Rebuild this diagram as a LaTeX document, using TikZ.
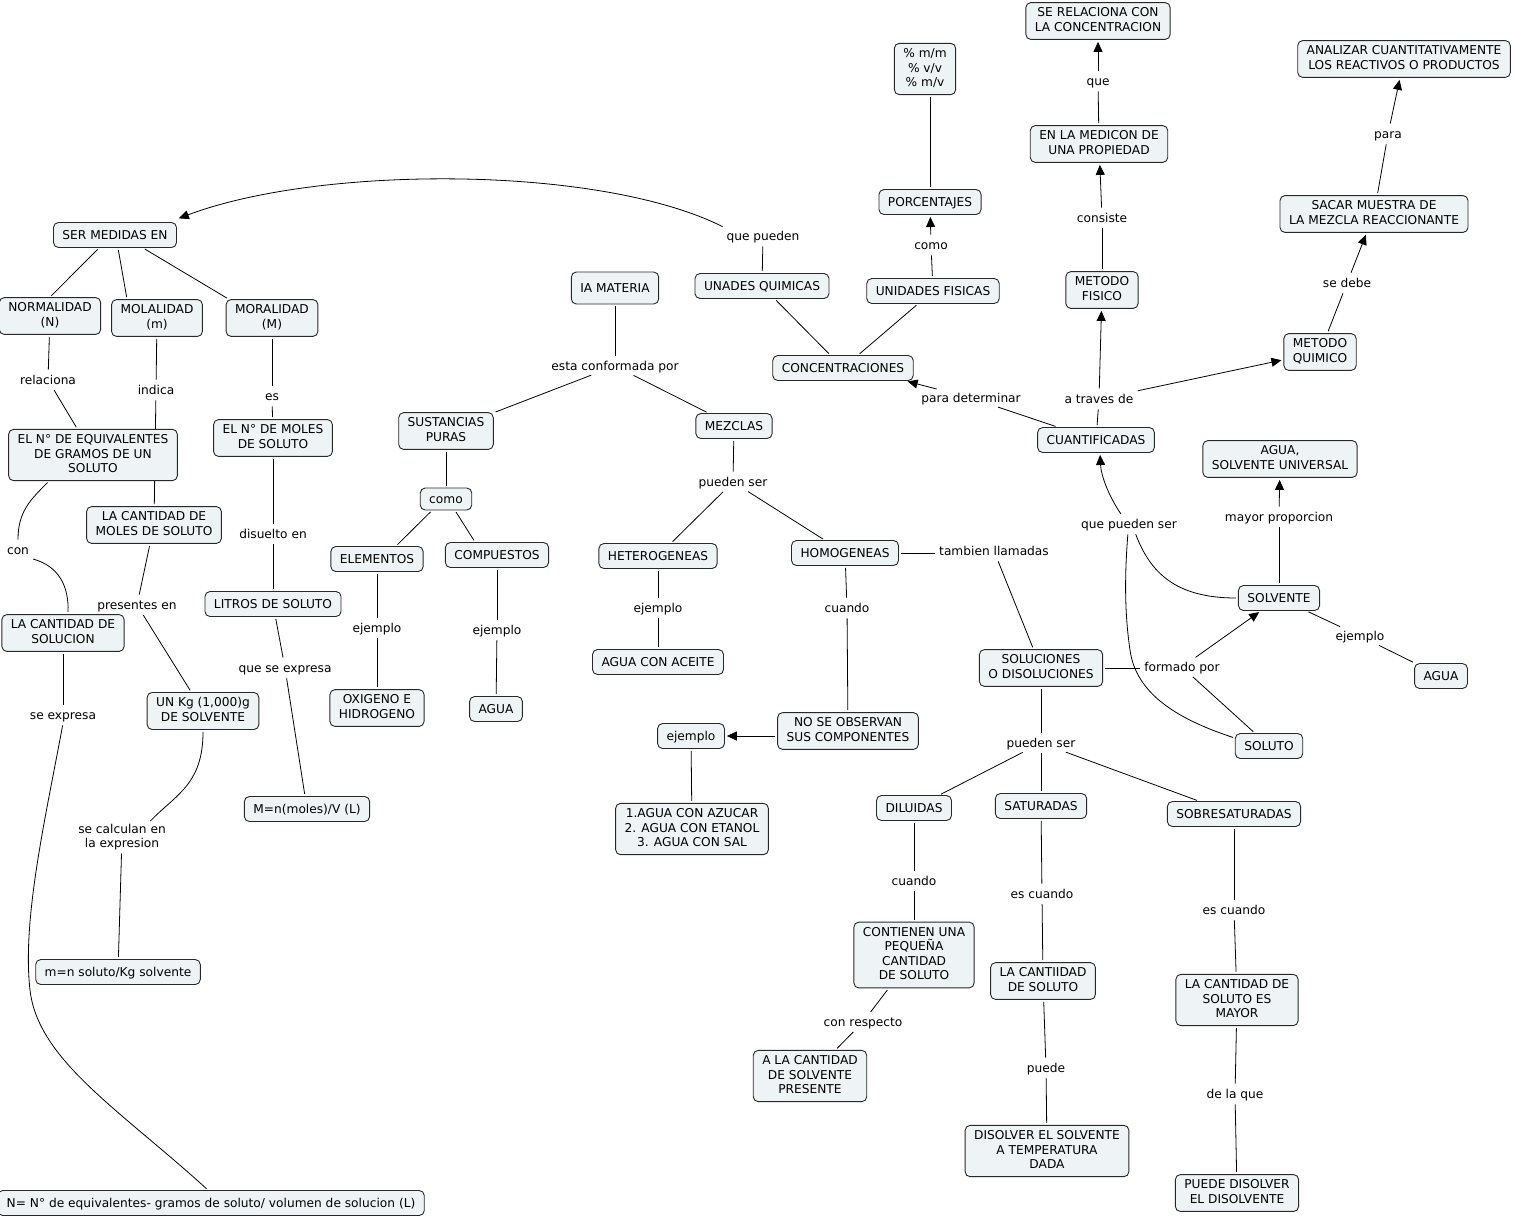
\documentclass[tikz,border=0pt]{standalone}
\usepackage{fontspec}
\setmainfont{DejaVu Sans}
\usetikzlibrary{arrows.meta}
\pgfdeclarelayer{bg}
\pgfsetlayers{bg,main}
\definecolor{cfill}{RGB}{238,244,246}
\definecolor{cline}{RGB}{40,40,40}
\newcommand\cmapfont{\fontsize{12.2}{14.5}\selectfont}
\newcommand\cstrut{\rule[-2.8pt]{0pt}{14.5pt}}
\tikzset{
 concept/.style={draw=cline, line width=0.9pt, fill=cfill, rounded corners=5pt, align=center, font=\cmapfont, inner xsep=9pt, inner ysep=5.25pt, execute at begin node=\cstrut, execute at end node=\cstrut},
 lnk/.style={align=center, font=\cmapfont, inner xsep=2pt, inner ysep=1pt, execute at begin node=\cstrut, execute at end node=\cstrut},
 ln/.style={draw=black, line width=0.8pt, shorten <=2pt, shorten >=2pt},
 arr/.style={ln, -{Triangle[length=10pt,width=9pt]}},
}
\begin{document}
\begin{tikzpicture}[x=1pt,y=-1pt]
\useasboundingbox (0,0) rectangle (1514,1219);
% ---------- left part ----------
\node[concept] (ser) at (115,235) {SER MEDIDAS EN};
\node[concept] (norm) at (50,316) {NORMALIDAD\\(N)};
\node[concept] (molal) at (157,318) {MOLALIDAD\\(m)};
\node[concept] (moral) at (272,318) {MORALIDAD\\(M)};
\node[lnk] (rel) at (48,380) {relaciona};
\node[lnk] (ind) at (156,390) {indica};
\node[lnk] (es) at (272,396) {es};
\node[concept] (equiv) at (93,455) {EL N° DE EQUIVALENTES\\DE GRAMOS DE UN\\SOLUTO};
\node[concept] (nmol) at (273,438) {EL N° DE MOLES\\DE SOLUTO};
\node[lnk] (con) at (18,550) {con};
\node[concept] (cantmol) at (154,525) {LA CANTIDAD DE\\MOLES DE SOLUTO};
\node[lnk] (disu) at (273,534) {disuelto en};
\node[lnk] (pres) at (137,605) {presentes en};
\node[concept] (litros) at (273,604) {LITROS DE SOLUTO};
\node[concept] (cantsol) at (63,633) {LA CANTIDAD DE\\SOLUCION};
\node[lnk] (qse) at (285,668) {que se expresa};
\node[concept] (unkg) at (203,711) {UN Kg (1,000)g\\DE SOLVENTE};
\node[lnk] (seexp) at (63,715) {se expresa};
\node[concept] (mform) at (307,809) {M=n(moles)/V (L)};
\node[lnk] (secalc) at (122,837) {se calculan en\\la expresion};
\node[concept] (mkg) at (118,972) {m=n soluto/Kg solvente};
\node[concept] (nform) at (211,1203) {N= N° de equivalentes- gramos de soluto/ volumen de solucion (L)};
% ---------- centre ----------
\node[concept, minimum height=32pt] (materia) at (615,288) {IA MATERIA};
\node[lnk] (esta) at (615,366) {esta conformada por};
\node[concept] (sust) at (446,431) {SUSTANCIAS\\PURAS};
\node[concept] (mezc) at (734,426) {MEZCLAS};
\node[concept, inner ysep=3.75pt] (como) at (446,499) {como};
\node[concept] (elem) at (377,559) {ELEMENTOS};
\node[concept] (comp) at (497,555) {COMPUESTOS};
\node[lnk] (ej1) at (377,628) {ejemplo};
\node[lnk] (ej2) at (497,630) {ejemplo};
\node[concept] (oxi) at (377,708) {OXIGENO E\\HIDROGENO};
\node[concept] (agua1) at (496,709) {AGUA};
\node[lnk] (pue1) at (733,482) {pueden ser};
\node[concept] (het) at (658,556) {HETEROGENEAS};
\node[concept] (hom) at (845,553) {HOMOGENEAS};
\node[lnk] (ej3) at (658,608) {ejemplo};
\node[concept] (aceite) at (658,662) {AGUA CON ACEITE};
\node[lnk] (cuando1) at (847,608) {cuando};
\node[concept] (noseo) at (848,731) {NO SE OBSERVAN\\SUS COMPONENTES};
\node[concept] (ejbox) at (691,736) {ejemplo};
\node[concept] (mezclas3) at (692,829) {1.AGUA CON AZUCAR\\2. AGUA CON ETANOL\\3. AGUA CON SAL};
\node[lnk] (tamb) at (994,551) {tambien llamadas};
\node[concept] (unq) at (762,286) {UNADES QUIMICAS};
\node[lnk] (qp) at (763,236) {que pueden};
\node[concept] (unf) at (933,291) {UNIDADES FISICAS};
\node[concept] (conc) at (843,368) {CONCENTRACIONES};
\node[lnk] (como2) at (931,245) {como};
\node[concept] (porc) at (930,202) {PORCENTAJES};
\node[concept] (pct) at (925,69) {\% m/m\\\% v/v\\\% m/v};
\node[lnk] (paradet) at (971,398) {para determinar};
% ---------- right ----------
\node[concept] (cuant) at (1096,440) {CUANTIFICADAS};
\node[lnk] (atr) at (1099,399) {a traves de};
\node[concept] (metf) at (1102,290) {METODO\\FISICO};
\node[lnk] (cons) at (1102,218) {consiste};
\node[concept] (medic) at (1099,144) {EN LA MEDICON DE\\UNA PROPIEDAD};
\node[lnk] (que) at (1098,81) {que};
\node[concept] (serel) at (1098,21) {SE RELACIONA CON\\LA CONCENTRACION};
\node[concept] (metq) at (1320,352) {METODO\\QUIMICO};
\node[lnk] (sedebe) at (1347,283) {se debe};
\node[concept] (sacar) at (1374,214) {SACAR MUESTRA DE\\LA MEZCLA REACCIONANTE};
\node[lnk] (para) at (1388,134) {para};
\node[concept] (anal) at (1404,59) {ANALIZAR CUANTITATIVAMENTE\\LOS REACTIVOS O PRODUCTOS};
\node[concept] (aguasu) at (1280,459) {AGUA,\\SOLVENTE UNIVERSAL};
\node[lnk] (mayp) at (1279,517) {mayor proporcion};
\node[lnk] (qps) at (1129,524) {que pueden ser};
\node[concept] (solv) at (1279,598) {SOLVENTE};
\node[lnk] (ej4) at (1360,636) {ejemplo};
\node[concept] (agua2) at (1441,676) {AGUA};
\node[lnk] (form) at (1182,667) {formado por};
\node[concept] (soluc) at (1041,668) {SOLUCIONES\\O DISOLUCIONES};
\node[concept] (soluto) at (1269,746) {SOLUTO};
\node[lnk] (pue2) at (1041,743) {pueden ser};
\node[concept] (dil) at (914,808) {DILUIDAS};
\node[concept] (sat) at (1041,806) {SATURADAS};
\node[concept] (sobre) at (1234,814) {SOBRESATURADAS};
\node[lnk] (cuando2) at (914,881) {cuando};
\node[lnk] (esc1) at (1042,894) {es cuando};
\node[lnk] (esc2) at (1234,910) {es cuando};
\node[concept] (cont) at (914,955) {CONTIENEN UNA\\PEQUEÑA\\CANTIDAD\\DE SOLUTO};
\node[concept] (lacan) at (1043,981) {LA CANTIIDAD\\DE SOLUTO};
\node[concept] (mayor) at (1237,1000) {LA CANTIDAD DE\\SOLUTO ES\\MAYOR};
\node[lnk] (conr) at (863,1022) {con respecto};
\node[concept] (alac) at (810,1076) {A LA CANTIDAD\\DE SOLVENTE\\PRESENTE};
\node[lnk] (puede) at (1046,1068) {puede};
\node[lnk] (delaq) at (1235,1094) {de la que};
\node[concept] (disol) at (1047,1151) {DISOLVER EL SOLVENTE\\A TEMPERATURA\\DADA};
\node[concept] (pdis) at (1237,1193) {PUEDE DISOLVER\\EL DISOLVENTE};
% ---------- connectors ----------
\begin{pgfonlayer}{bg}
\draw[ln] ([xshift=-16pt]ser.south) -- (norm.north);
\draw[ln] ([xshift=3pt]ser.south) -- ([xshift=-30pt]molal.north);
\draw[ln] ([xshift=28pt]ser.south) -- ([xshift=3pt]moral.north west);
\draw[ln] (norm) -- (rel);
\draw[ln] (rel) -- (equiv);
\draw[ln] (molal) -- (ind);
\draw[ln] (ind) -- (cantmol);
\draw[ln] (moral) -- (es);
\draw[ln] (es) -- (nmol);
\draw[ln] (nmol) -- (disu);
\draw[ln] (disu) -- (litros);
\draw[ln] (litros) -- (qse);
\draw[ln] (qse) -- (mform);
\draw[ln] ([xshift=-44pt]equiv.south) .. controls (30,500) and (18,512) .. (con.north);
\draw[ln] (con.south east) .. controls (58,566) and (69,585) .. ([xshift=5pt]cantsol.north);
\draw[ln] (cantmol) -- (pres);
\draw[ln] (pres) -- (unkg);
\draw[ln] (unkg.south) .. controls (203,785) and (175,795) .. ([xshift=27pt]secalc.north);
\draw[ln] (secalc) -- (mkg);
\draw[ln] (cantsol) -- (seexp);
\draw[ln] (seexp.south) .. controls (45,820) and (22,920) .. (30,990) .. controls (38,1060) and (120,1110) .. ([xshift=-3pt]nform.north);
\draw[ln] (materia) -- (esta);
\draw[ln] (esta) -- (sust);
\draw[ln] (esta) -- (mezc);
\draw[ln] (sust) -- (como);
\draw[ln] ([xshift=-14pt]como.south) -- ([xshift=19pt]elem.north);
\draw[ln] ([xshift=9pt]como.south) -- ([xshift=-22pt]comp.north);
\draw[ln] (elem) -- (ej1);
\draw[ln] (ej1) -- (oxi);
\draw[ln] (comp) -- (ej2);
\draw[ln] (ej2) -- (agua1);
\draw[ln] (mezc) -- (pue1);
\draw[ln] (pue1) -- (het);
\draw[ln] (pue1) -- (hom);
\draw[ln] (het) -- (ej3);
\draw[ln] (ej3) -- (aceite);
\draw[ln] (hom) -- (cuando1);
\draw[ln] (cuando1) -- (noseo);
\draw[arr] (noseo.west |- ejbox.east) -- (ejbox.east);
\draw[ln] (ejbox) -- (mezclas3);
\draw[ln] (hom.east) -- (tamb.west |- hom.east);
\draw[ln] (tamb) -- (soluc);
\draw[ln] (unq) -- (qp);
\draw[arr] (qp.north west) .. controls (600,165) and (320,165) .. ([yshift=3pt]ser.north east);
\draw[ln] (unq) -- (conc);
\draw[ln] (unf) -- (conc);
\draw[ln] (unf) -- (como2);
\draw[arr] (como2) -- (porc);
\draw[ln] (porc.north) -- (porc.north |- pct.south);
\draw[ln] (cuant) -- (paradet);
\draw[arr] (paradet) -- ([xshift=-8pt]conc.south east);
\draw[ln] (cuant) -- (atr);
\draw[arr] (atr) -- (metf);
\draw[arr] (atr) -- (metq);
\draw[ln] (metf) -- (cons);
\draw[arr] (cons) -- (medic);
\draw[ln] (medic) -- (que);
\draw[arr] (que) -- (serel);
\draw[ln] (metq) -- (sedebe);
\draw[arr] (sedebe) -- (sacar);
\draw[ln] (sacar) -- (para);
\draw[arr] (para) -- (anal);
\draw[ln] (soluc.east) -- (form.west |- soluc.east);
\draw[arr] (form) -- (solv);
\draw[ln] (form) -- (soluto);
\draw[ln] (solv.west) .. controls (1175,598) and (1150,572) .. ([xshift=6pt]qps.south);
\draw[arr] ([xshift=-7pt]qps.north) .. controls (1108,495) and (1101,475) .. ([xshift=4pt]cuant.south);
\draw[ln] ([yshift=8pt]soluto.west) .. controls (1180,720) and (1136,695) .. (1130,650) .. controls (1124,610) and (1125,570) .. ([xshift=-1pt]qps.south);
\draw[ln] (solv) -- (mayp);
\draw[arr] (mayp) -- (aguasu);
\draw[ln] (solv) -- (ej4);
\draw[ln] (ej4) -- (agua2);
\draw[ln] (soluc) -- (pue2);
\draw[ln] (pue2) -- (dil);
\draw[ln] (pue2) -- (sat);
\draw[ln] (pue2) -- (sobre);
\draw[ln] (dil) -- (cuando2);
\draw[ln] (cuando2) -- (cont);
\draw[ln] (cont) -- (conr);
\draw[ln] (conr) -- (alac);
\draw[ln] (sat) -- (esc1);
\draw[ln] (esc1) -- (lacan);
\draw[ln] (lacan) -- (puede);
\draw[ln] (puede) -- (disol);
\draw[ln] (sobre) -- (esc2);
\draw[ln] (esc2) -- (mayor);
\draw[ln] (mayor) -- (delaq);
\draw[ln] (delaq) -- (pdis);
\end{pgfonlayer}
\end{tikzpicture}
\end{document}
